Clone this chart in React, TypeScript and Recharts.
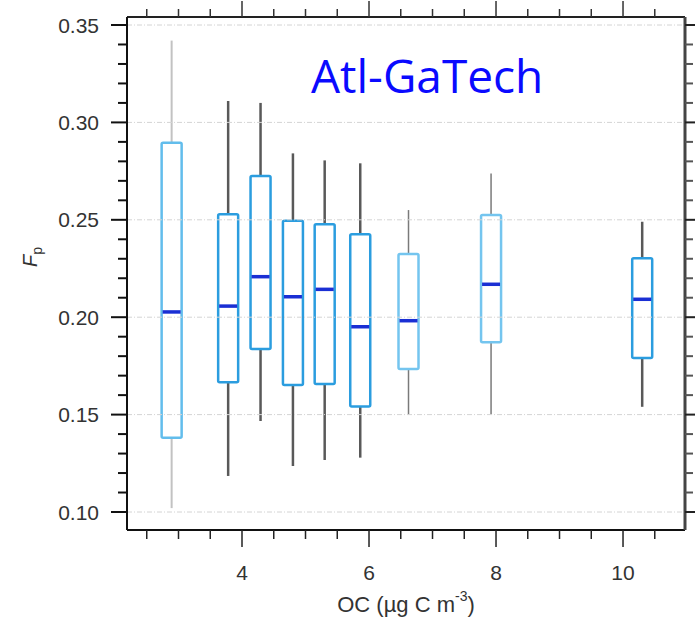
import { Bar, ComposedChart, ReferenceLine, XAxis, YAxis } from "recharts";

// OC (µg C m-3) bin positions and Fp box statistics
const ocValues = [2.89, 3.78, 4.29, 4.8, 5.3, 5.86, 6.62, 7.92, 10.3];
const whiskerLow = [0.102, 0.1185, 0.1467, 0.1236, 0.1267, 0.1279, 0.15, 0.1502, 0.154];
const quartile1 = [0.1381, 0.1666, 0.1837, 0.1652, 0.1657, 0.1541, 0.1734, 0.1871, 0.179];
const medians = [0.2027, 0.2057, 0.2208, 0.2105, 0.2143, 0.1951, 0.1982, 0.2169, 0.2092];
const quartile3 = [0.2896, 0.2528, 0.2725, 0.2495, 0.2477, 0.2426, 0.2324, 0.2525, 0.2302];
const whiskerHigh = [0.342, 0.311, 0.31, 0.2841, 0.2805, 0.279, 0.255, 0.2738, 0.249];

const xTicks = [2.5, 3, 3.5, 4, 4.5, 5, 5.5, 6, 6.5, 7, 7.5, 8, 8.5, 9, 9.5, 10, 10.5];
const yTicks = [
  0.1, 0.11, 0.12, 0.13, 0.14, 0.15, 0.16, 0.17, 0.18, 0.19, 0.2, 0.21, 0.22,
  0.23, 0.24, 0.25, 0.26, 0.27, 0.28, 0.29, 0.3, 0.31, 0.32, 0.33, 0.34, 0.35,
];
const yGrid = [0.1, 0.15, 0.2, 0.25, 0.3, 0.35];

const rows = ocValues.map((x, i) => ({
  i,
  x,
  lo: whiskerLow[i],
  q1: quartile1[i],
  med: medians[i],
  q3: quartile3[i],
  hi: whiskerHigh[i],
}));

// look of each box (the lighter ones are the sparse bins)
const light = { box: "#62bdec", whisker: "#c2c2c2", whiskerW: 2 };
const dark = { box: "#2b9ddf", whisker: "#595959", whiskerW: 2.5 };
const thin = { box: "#74c5ef", whisker: "#7a7a7a", whiskerW: 1.5 };
const boxLook = [light, dark, dark, dark, dark, dark, thin, thin, dark];

const FONT = "'Liberation Sans', Arial, Helvetica, sans-serif";
const TEXT = "#333";

const isMajorY = (v: number) => Math.round(v * 100) % 5 === 0;
const isMajorX = (v: number) => Math.abs(v - Math.round(v)) < 1e-6 && Math.round(v) % 2 === 0;

function BoxShape(props: any) {
  const { x, y, width, height, payload } = props;
  const top = Math.min(y, y + height);
  const h = Math.abs(height);
  const k = h / (payload.q3 - payload.q1);
  const py = (v: number) => top + (payload.q3 - v) * k;
  const cx = x + width / 2;
  const look = boxLook[payload.i];
  return (
    <g>
      <line x1={cx} x2={cx} y1={py(payload.hi)} y2={top} stroke={look.whisker} strokeWidth={look.whiskerW} />
      <line x1={cx} x2={cx} y1={top + h} y2={py(payload.lo)} stroke={look.whisker} strokeWidth={look.whiskerW} />
      <rect x={x} y={top} width={width} height={h} rx={1.5} fill="none" stroke={look.box} strokeWidth={2.5} />
      <line x1={x + 1} x2={x + width - 1} y1={py(payload.med)} y2={py(payload.med)} stroke="#1a2fd4" strokeWidth={3.5} />
    </g>
  );
}

function LeftTick({ x, y, payload }: any) {
  const major = isMajorY(payload.value);
  return (
    <g>
      <line x1={x} x2={x - (major ? 16 : 9)} y1={y} y2={y} stroke="#111" strokeWidth={2} />
      {major && (
        <text x={x - 28} y={y} dy="0.36em" textAnchor="end" fontSize={21} fontFamily={FONT} fill={TEXT}>
          {payload.value.toFixed(2)}
        </text>
      )}
    </g>
  );
}

function RightTick({ x, y, payload }: any) {
  const major = isMajorY(payload.value);
  return <line x1={x} x2={x + (major ? 10 : 8)} y1={y} y2={y} stroke={major ? "#222" : "#555"} strokeWidth={2} />;
}

function BottomTick({ x, y, payload }: any) {
  const major = isMajorX(payload.value);
  return (
    <g>
      <line x1={x} x2={x} y1={y} y2={y + (major ? 17 : 9)} stroke="#222" strokeWidth={1.5} />
      {major && (
        <text x={x} y={y + 50} textAnchor="middle" fontSize={21} fontFamily={FONT} fill={TEXT}>
          {payload.value}
        </text>
      )}
    </g>
  );
}

function TopTick({ x, y, payload }: any) {
  const major = isMajorX(payload.value);
  return <line x1={x} x2={x} y1={y} y2={y - (major ? 16 : 8)} stroke="#333" strokeWidth={1.5} />;
}

export default function App() {
  return (
    <div style={{ position: "absolute", left: 0, top: 0, width: 698, height: 619, background: "#fff" }}>
      <ComposedChart
        width={698}
        height={619}
        data={rows}
        margin={{ top: 2, right: 3, bottom: 29, left: 27 }}
      >
        <XAxis
          xAxisId="bottom"
          dataKey="x"
          type="number"
          domain={[2.189, 10.976]}
          allowDataOverflow
          ticks={xTicks}
          interval={0}
          height={60}
          tickSize={0}
          tickMargin={0}
          tick={<BottomTick />}
          axisLine={{ stroke: "#111", strokeWidth: 2 }}
        />
        <XAxis
          xAxisId="top"
          orientation="top"
          dataKey="x"
          type="number"
          domain={[2.189, 10.976]}
          allowDataOverflow
          ticks={xTicks}
          interval={0}
          height={15}
          tickSize={0}
          tickMargin={0}
          tick={<TopTick />}
          axisLine={{ stroke: "#222", strokeWidth: 2 }}
        />
        <YAxis
          yAxisId="left"
          type="number"
          domain={[0.09076, 0.35411]}
          allowDataOverflow
          ticks={yTicks}
          interval={0}
          width={100}
          tickSize={0}
          tickMargin={0}
          tick={<LeftTick />}
          axisLine={{ stroke: "#111", strokeWidth: 2 }}
        />
        <YAxis
          yAxisId="right"
          orientation="right"
          type="number"
          domain={[0.09076, 0.35411]}
          allowDataOverflow
          ticks={yTicks}
          interval={0}
          width={10}
          tickSize={0}
          tickMargin={0}
          tick={<RightTick />}
          axisLine={{ stroke: "#444", strokeWidth: 3 }}
        />
        {yGrid.map((v) => (
          <ReferenceLine
            key={v}
            y={v}
            xAxisId="bottom"
            yAxisId="left"
            stroke="#d4d4d4"
            strokeWidth={1}
            strokeDasharray="5 2 1 2"
          />
        ))}
        <Bar
          xAxisId="bottom"
          yAxisId="left"
          dataKey={(d: any) => [d.q1, d.q3]}
          barSize={20}
          shape={<BoxShape />}
          isAnimationActive={false}
        />
      </ComposedChart>
      <svg
        width={698}
        height={619}
        style={{ position: "absolute", left: 0, top: 0, pointerEvents: "none" }}
      >
        <text x={311} y={93} fontSize={46} fontFamily="'Open Sans', 'Noto Sans', sans-serif" fill="#0a0aff">
          Atl-GaTech
        </text>
        <text
          x={30}
          y={257}
          transform="rotate(-90 30 257)"
          textAnchor="middle"
          dy="0.35em"
          fontSize={20}
          fontFamily={FONT}
          fill={TEXT}
        >
          <tspan fontStyle="italic">F</tspan>
          <tspan fontSize={14} dy={5}>p</tspan>
        </text>
        <text x={406} y={612} textAnchor="middle" fontSize={22} fontFamily={FONT} fill={TEXT}>
          OC (µg C m
          <tspan fontSize={14} dy={-11}>-3</tspan>
          <tspan dy={11}>)</tspan>
        </text>
      </svg>
    </div>
  );
}
